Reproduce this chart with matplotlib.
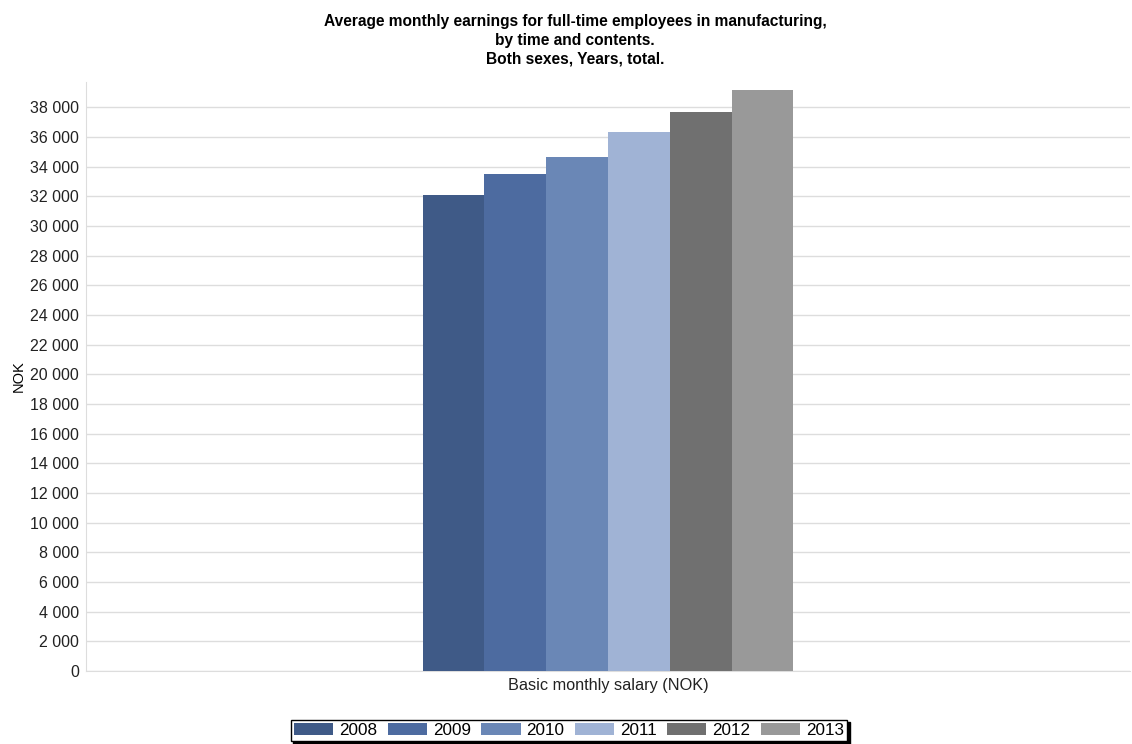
import matplotlib
matplotlib.use("Agg")
import matplotlib.pyplot as plt
import numpy as np
from matplotlib.ticker import FuncFormatter

plt.rcParams['font.family'] = ['Liberation Sans', 'DejaVu Sans']

years = ['2008', '2009', '2010', '2011', '2012', '2013']
values = [32100, 33500, 34650, 36350, 37650, 39180]
colors = ['#3f5a87', '#4d6ba0', '#6a87b6', '#a0b3d5', '#707070', '#999999']
category = 'Basic monthly salary (NOK)'

fig = plt.figure(figsize=(11.32, 7.44), dpi=100)
ax = fig.add_axes([86 / 1132, 1 - 671 / 744, (1130 - 86) / 1132, (671 - 82) / 744])

bw = 0.0592
offsets = (np.arange(len(years)) - (len(years) - 1) / 2) * bw
for off, v, c, y in zip(offsets, values, colors, years):
    ax.bar(off, v, width=bw, color=c, label=y, zorder=3)

ax.set_xlim(-0.5, 0.5)
ax.set_ylim(0, 39700)
ax.set_yticks(np.arange(0, 38001, 2000))
ax.yaxis.set_major_formatter(FuncFormatter(lambda v, p: f"{int(v):,}".replace(',', ' ')))
ax.set_xticks([0])
ax.set_xticklabels([category])
ax.tick_params(axis='y', length=0, labelsize=11.5, colors='#222222', pad=5)
ax.tick_params(axis='x', length=0, labelsize=11.7, colors='#222222', pad=5)
ax.grid(axis='y', color='#dddddd', linewidth=1, zorder=0)
for s in ['top', 'right']:
    ax.spines[s].set_visible(False)
for s in ['left', 'bottom']:
    ax.spines[s].set_color('#dddddd')
ax.set_ylabel('NOK', fontsize=10.5)
ax.yaxis.set_label_coords(-60 / 1044, 0.5)

fig.text(575 / 1132, 1 - 14 / 744,
         'Average monthly earnings for full-time employees in manufacturing,\nby time and contents.\nBoth sexes, Years, total.',
         ha='center', va='top', fontsize=11.2, fontweight='bold', linespacing=1.3)

leg = fig.legend(loc='center', bbox_to_anchor=(569 / 1132, 1 - 730.5 / 744), ncol=6,
                 frameon=True, fancybox=False, shadow={'color': 'black', 'alpha': 1},
                 fontsize=12.3, handlelength=2.3, handleheight=0.7, columnspacing=0.6,
                 handletextpad=0.35, borderpad=0.2, edgecolor='black')
leg.get_frame().set_linewidth(1)

fig.savefig('out.png', dpi=100, facecolor='white')
